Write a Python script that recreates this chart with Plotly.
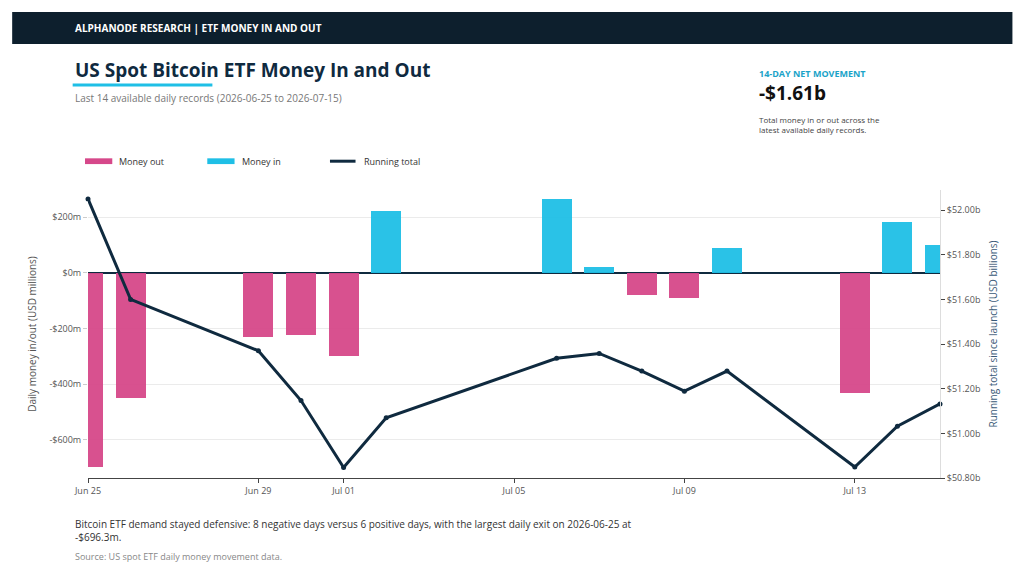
import numpy as np
import plotly.graph_objects as go

# daily flows, USD millions
dates = ["2026-06-25", "2026-06-26", "2026-06-29", "2026-06-30", "2026-07-01",
         "2026-07-02", "2026-07-06", "2026-07-07", "2026-07-08", "2026-07-09",
         "2026-07-10", "2026-07-13", "2026-07-14", "2026-07-15"]
flows = [-696.3, -450, -230, -223, -300, 223, 266, 22, -79, -90, 90, -430, 183, 100]
start_total = 52.05  # running total (USD billions) on the first day
tick_vals = ["2026-06-25", "2026-06-29", "2026-07-01", "2026-07-05", "2026-07-09", "2026-07-13"]
tick_text = ["Jun 25", "Jun 29", "Jul 01", "Jul 05", "Jul 09", "Jul 13"]

flows = np.array(flows)
running = start_total + (np.cumsum(flows) - flows[0]) / 1000

PINK = "#d6488a"
CYAN = "#1fbfe6"
NAVY = "#0f2a3f"
FONT = "Open Sans"

out = np.where(flows < 0, flows, None)
inn = np.where(flows >= 0, flows, None)

fig = go.Figure()
fig.add_trace(go.Bar(x=dates, y=out, name="Money out", marker_color=PINK,
                     marker_line_width=0, opacity=0.95, width=0.7 * 86400000))
fig.add_trace(go.Bar(x=dates, y=inn, name="Money in", marker_color=CYAN,
                     marker_line_width=0, opacity=0.95, width=0.7 * 86400000))
fig.add_trace(go.Scatter(x=dates, y=running, name="Running total", yaxis="y2",
                         mode="lines+markers", line=dict(color=NAVY, width=3),
                         marker=dict(size=5, color=NAVY), cliponaxis=False))

# the page sits 8px in from the window edge, so the figure is 8px smaller
fig.update_layout(
    width=1016, height=567,
    margin=dict(l=80, r=84, t=182, b=97, autoexpand=False),
    paper_bgcolor="white", plot_bgcolor="white",
    font=dict(family=FONT, size=10, color="#555"),
    barmode="overlay", bargap=0,
    showlegend=False,
    xaxis=dict(type="date", range=["2026-06-25", "2026-07-15"],
               tickvals=tick_vals, ticktext=tick_text, showgrid=False,
               showline=True, linecolor="#444", ticks="outside", ticklen=4,
               tickcolor="#444", tickfont=dict(size=9), automargin=False),
    yaxis=dict(range=[-737, 298], tickvals=[-600, -400, -200, 0, 200],
               ticktext=["-$600m", "-$400m", "-$200m", "$0m", "$200m"],
               gridcolor="#ebebeb", zeroline=True, zerolinecolor=NAVY, zerolinewidth=1.5,
               title=dict(text="Daily money in/out (USD millions)", font=dict(size=10), standoff=10),
               ticks="outside", ticklen=4, tickcolor="#ccc", tickfont=dict(size=9),
               automargin=False),
    yaxis2=dict(overlaying="y", side="right", range=[50.8, 52.09],
                tickvals=[50.8, 51.0, 51.2, 51.4, 51.6, 51.8, 52.0],
                ticktext=["$50.80b", "$51.00b", "$51.20b", "$51.40b", "$51.60b", "$51.80b", "$52.00b"],
                showgrid=False, showline=True, linecolor="#ddd", ticks="outside",
                ticklen=4, tickcolor="#444", tickfont=dict(size=9), automargin=False,
                title=dict(text="Running total since launch (USD billions)",
                           font=dict(size=10, color="#3a5a78"), standoff=10)),
)

# header bar and title underline
fig.add_shape(type="rect", xref="paper", yref="paper", x0=-0.089, x1=1.085,
              y0=1.507, y1=1.618, fillcolor="#0d1f2d", line_width=0, layer="below")
fig.add_shape(type="line", xref="paper", yref="paper", x0=-0.018, x1=0.146,
              y0=1.365, y1=1.365, line=dict(color=CYAN, width=3))

# manual legend
leg = [(-0.0035, PINK, "Money out"), (0.14, CYAN, "Money in"), (0.284, NAVY, "Running total")]
for x, c, t in leg:
    if t == "Running total":
        fig.add_shape(type="line", xref="paper", yref="paper", x0=x, x1=x + 0.03,
                      y0=1.1, y1=1.1, line=dict(color=c, width=3))
    else:
        fig.add_shape(type="rect", xref="paper", yref="paper", x0=x, x1=x + 0.032,
                      y0=1.09, y1=1.11, fillcolor=c, line_width=0)
    fig.add_annotation(xref="paper", yref="paper", x=x + 0.038, y=1.1, text=t,
                       showarrow=False, xanchor="left", yanchor="middle",
                       font=dict(size=9, color="#333", family=FONT))

texts = [
    (-0.018, 1.5625, "<b>ALPHANODE RESEARCH | ETF MONEY IN AND OUT</b>", 10, "white"),
    (-0.018, 1.417, "<b>US Spot Bitcoin ETF Money In and Out</b>", 19, NAVY),
    (-0.018, 1.319, "Last 14 available daily records (2026-06-25 to 2026-07-15)", 10, "#777"),
    (0.785, 1.403, "<b>14-DAY NET MOVEMENT</b>", 9, "#1aa3c8"),
    (0.785, 1.337, "<b>-$1.61b</b>", 19, "#111"),
    (0.785, 1.229, "Total money in or out across the<br>latest available daily records.", 8, "#444"),
    (-0.018, -0.184, "Bitcoin ETF demand stayed defensive: 8 negative days versus 6 positive days, with the largest daily exit on 2026-06-25 at<br>-$696.3m.", 10, "#333"),
    (-0.018, -0.274, "Source: US spot ETF daily money movement data.", 9, "#888"),
]
for x, y, t, s, c in texts:
    fig.add_annotation(xref="paper", yref="paper", x=x, y=y, text=t, showarrow=False,
                       xanchor="left", yanchor="middle", align="left",
                       font=dict(size=s, color=c, family=FONT))

fig.write_html("out.html")
